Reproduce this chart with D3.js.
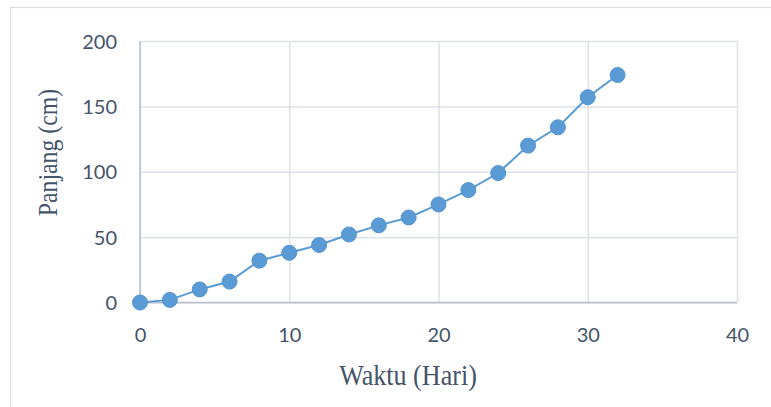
<!DOCTYPE html>
<html>
<head>
<meta charset="utf-8">
<script src="https://cdn.jsdelivr.net/npm/d3@7"></script>
<style>
  html, body { margin: 0; padding: 0; background: #fff; }
  svg { display: block; }
</style>
</head>
<body>
<svg id="chart" width="771" height="407"></svg>
<script>
// Growth measurements: length (cm) against time (days)
const days = [0, 2, 4, 6, 8, 10, 12, 14, 16, 18, 20, 22, 24, 26, 28, 30, 32];
const lengths = [0, 2, 10, 16, 32, 38, 44, 52, 59, 65, 75, 86, 99, 120, 134, 157, 174];
const xTicks = [0, 10, 20, 30, 40];
const yTicks = [0, 50, 100, 150, 200];
const xTitle = "Waktu (Hari)";
const yTitle = "Panjang (cm)";

const svg = d3.select("#chart");
const W = 771, H = 407;
const plot = { left: 140, right: 737, top: 41, bottom: 302.5 };

const x = d3.scaleLinear().domain([0, 40]).range([plot.left, plot.right]);
const y = d3.scaleLinear().domain([0, 200]).range([plot.bottom, plot.top]);

const tickFont = "Lato, 'Open Sans', sans-serif";
const titleFont = "'Liberation Serif', 'Times New Roman', serif";
const textColor = "#44546a";
const gridColor = "#dde1e8";
const axisColor = "#b8c0cc";
const seriesColor = "#5b9bd5";

// chart frame
svg.append("rect")
  .attr("x", 10.5).attr("y", 7.5)
  .attr("width", W).attr("height", H)
  .attr("fill", "#fff")
  .attr("stroke", "#d9dde3").attr("stroke-width", 1.2);

// gridlines
const gx = svg.append("g").attr("transform", `translate(0,${plot.bottom})`)
  .call(d3.axisBottom(x).tickValues(xTicks).tickSize(-(plot.bottom - plot.top)).tickFormat(""));
gx.select(".domain").remove();
gx.selectAll(".tick line").attr("stroke", gridColor).attr("stroke-width", 1.5);

const gy = svg.append("g").attr("transform", `translate(${plot.left},0)`)
  .call(d3.axisLeft(y).tickValues(yTicks).tickSize(-(plot.right - plot.left)).tickFormat(""));
gy.select(".domain").remove();
gy.selectAll(".tick line").attr("stroke", gridColor).attr("stroke-width", 1.5);

// axis lines
svg.append("line")
  .attr("x1", plot.left).attr("x2", plot.left)
  .attr("y1", plot.top).attr("y2", plot.bottom)
  .attr("stroke", axisColor).attr("stroke-width", 1.5);
svg.append("line")
  .attr("x1", plot.left).attr("x2", plot.right)
  .attr("y1", plot.bottom).attr("y2", plot.bottom)
  .attr("stroke", axisColor).attr("stroke-width", 1.5);

// tick labels
const xl = svg.append("g").attr("transform", `translate(0,${plot.bottom})`)
  .call(d3.axisBottom(x).tickValues(xTicks).tickSize(0).tickPadding(0));
xl.select(".domain").remove();
xl.selectAll(".tick text")
  .attr("y", 32).attr("dy", "0.35em")
  .attr("font-family", tickFont).attr("font-size", 20).attr("fill", textColor);

const yl = svg.append("g").attr("transform", `translate(${plot.left},0)`)
  .call(d3.axisLeft(y).tickValues(yTicks).tickSize(0).tickPadding(0));
yl.select(".domain").remove();
yl.selectAll(".tick text")
  .attr("x", -23).attr("dy", "0.35em")
  .attr("font-family", tickFont).attr("font-size", 20).attr("fill", textColor);

// axis titles (narrow serif lettering)
svg.append("text")
  .attr("transform", "translate(408,384.5) scale(0.9,1)")
  .attr("text-anchor", "middle")
  .attr("font-family", titleFont).attr("font-size", 29).attr("fill", textColor)
  .text(xTitle);

svg.append("text")
  .attr("transform", "translate(57,152.5) rotate(-90) scale(0.88,1)")
  .attr("text-anchor", "middle")
  .attr("font-family", titleFont).attr("font-size", 27).attr("fill", textColor)
  .text(yTitle);

// series line and markers
const pts = days.map((d, i) => ({ d, v: lengths[i] }));
svg.append("path")
  .datum(pts)
  .attr("fill", "none")
  .attr("stroke", seriesColor).attr("stroke-width", 2)
  .attr("d", d3.line().x(p => x(p.d)).y(p => y(p.v)));

svg.append("g").selectAll("circle")
  .data(pts)
  .join("circle")
  .attr("cx", p => x(p.d)).attr("cy", p => y(p.v))
  .attr("r", 7.5)
  .attr("fill", seriesColor)
  .attr("stroke", "#5494cf").attr("stroke-width", 1);
</script>
</body>
</html>
